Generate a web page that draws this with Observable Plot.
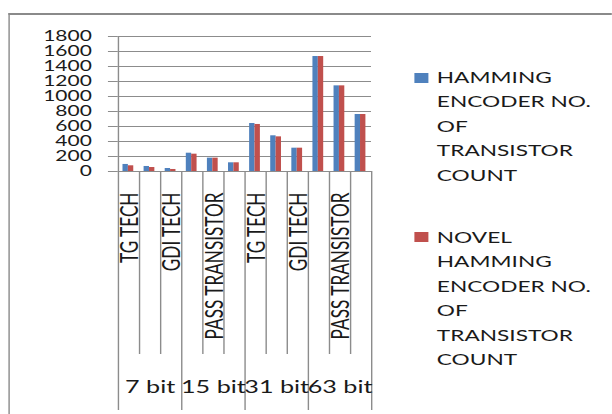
<!DOCTYPE html>
<html><head><meta charset="utf-8">
<script src="https://cdn.jsdelivr.net/npm/d3@7"></script>
<script src="https://cdn.jsdelivr.net/npm/@observablehq/plot@0.6"></script>
<style>
body{margin:0;background:#fff;}
#wrap{position:relative;width:437.14px;height:414px;transform:scaleX(1.4);transform-origin:0 0;font-family:Lato,sans-serif;color:#1a1a1a;overflow:hidden;}
#frame{position:absolute;left:5.9px;top:13px;width:432px;height:420px;border-left:1.7px solid #8a8a8a;border-top:2px solid #8a8a8a;}
#chart{position:absolute;left:0;top:0;}
.sw{position:absolute;left:296.4px;width:10px;height:10px;}
.lt{position:absolute;left:312px;font-size:16.2px;line-height:24.5px;white-space:nowrap;}
</style></head>
<body>
<div id="wrap"><div id="frame"></div><div id="chart"></div></div>
<script>
const groups = ["7 bit", "15 bit", "31 bit", "63 bit"];
const techs = ["TG TECH", "PASS TRANSISTOR", "GDI TECH"];
const hamming = [94, 67, 40, 244, 178, 116, 640, 476, 311, 1533, 1142, 760];
const novel = [76, 53, 27, 231, 178, 116, 627, 462, 311, 1533, 1142, 760];
const yTicks = [0, 200, 400, 600, 800, 1000, 1200, 1400, 1600, 1800];
const seriesLines = [
  ["HAMMING", "ENCODER NO.", "OF", "TRANSISTOR", "COUNT"],
  ["NOVEL", "HAMMING", "ENCODER NO.", "OF", "TRANSISTOR", "COUNT"]
];
const seriesColors = ["#4F81BD", "#C0504D"];

const rows = hamming.map((h, i) => ({i, group: groups[Math.floor(i / 3)], tech: techs[i % 3], hamming: h, novel: novel[i]}));
const groupBounds = d3.range(0, rows.length + 1, 3);
const catBounds = d3.range(1, rows.length).filter(k => k % 3 !== 0);
const lineColor = "#8c8c8c";

const chart = Plot.plot({
  width: 290, height: 414,
  marginLeft: 84.1, marginRight: 25, marginTop: 36, marginBottom: 243,
  x: {domain: [0, rows.length], axis: null},
  y: {domain: [0, 1800], axis: null},
  style: {fontFamily: "Lato, sans-serif", background: "transparent", color: "#1a1a1a"},
  marks: [
    Plot.gridY(yTicks, {stroke: lineColor, strokeOpacity: 1}),
    Plot.axisY(yTicks, {tickSize: 7, tickPadding: 12, stroke: lineColor, fill: "#1a1a1a", fontSize: 15, label: null, tickFormat: d => String(d)}),
    Plot.ruleX([0], {stroke: lineColor}),
    Plot.axisX(groupBounds, {tickSize: 239, tickFormat: () => "", label: null, stroke: lineColor}),
    Plot.axisX(catBounds, {tickSize: 183, tickFormat: () => "", label: null, stroke: lineColor}),
    Plot.rectY(rows, {x1: d => d.i + 0.225, x2: d => d.i + 0.48, y: "hamming", fill: seriesColors[0]}),
    Plot.rectY(rows, {x1: d => d.i + 0.48, x2: d => d.i + 0.735, y: "novel", fill: seriesColors[1]}),
    Plot.text(rows.filter(d => d.i % 2 === 0), {x: d => d.i + 0.5, frameAnchor: "bottom", text: "tech", rotate: -90, textAnchor: "end", dx: 6.6, dy: 21, fontSize: 17.2, fill: "#1a1a1a"}),
    Plot.text(groups, {x: (d, i) => i * 3 + 1.5, frameAnchor: "bottom", dy: 221, text: d => d, fontSize: 18, fill: "#1a1a1a"})
  ]
});
document.getElementById("chart").appendChild(chart);

const wrap = document.getElementById("wrap");
const legendTops = [64.75, 224.75];
const swatchTops = [73, 231.7];
seriesLines.forEach((lines, k) => {
  const sw = document.createElement("div");
  sw.className = "sw";
  sw.style.top = swatchTops[k] + "px";
  sw.style.background = seriesColors[k];
  wrap.appendChild(sw);
  const t = document.createElement("div");
  t.className = "lt";
  t.style.top = legendTops[k] + "px";
  t.innerHTML = lines.join("<br>");
  wrap.appendChild(t);
});
</script>
</body></html>
